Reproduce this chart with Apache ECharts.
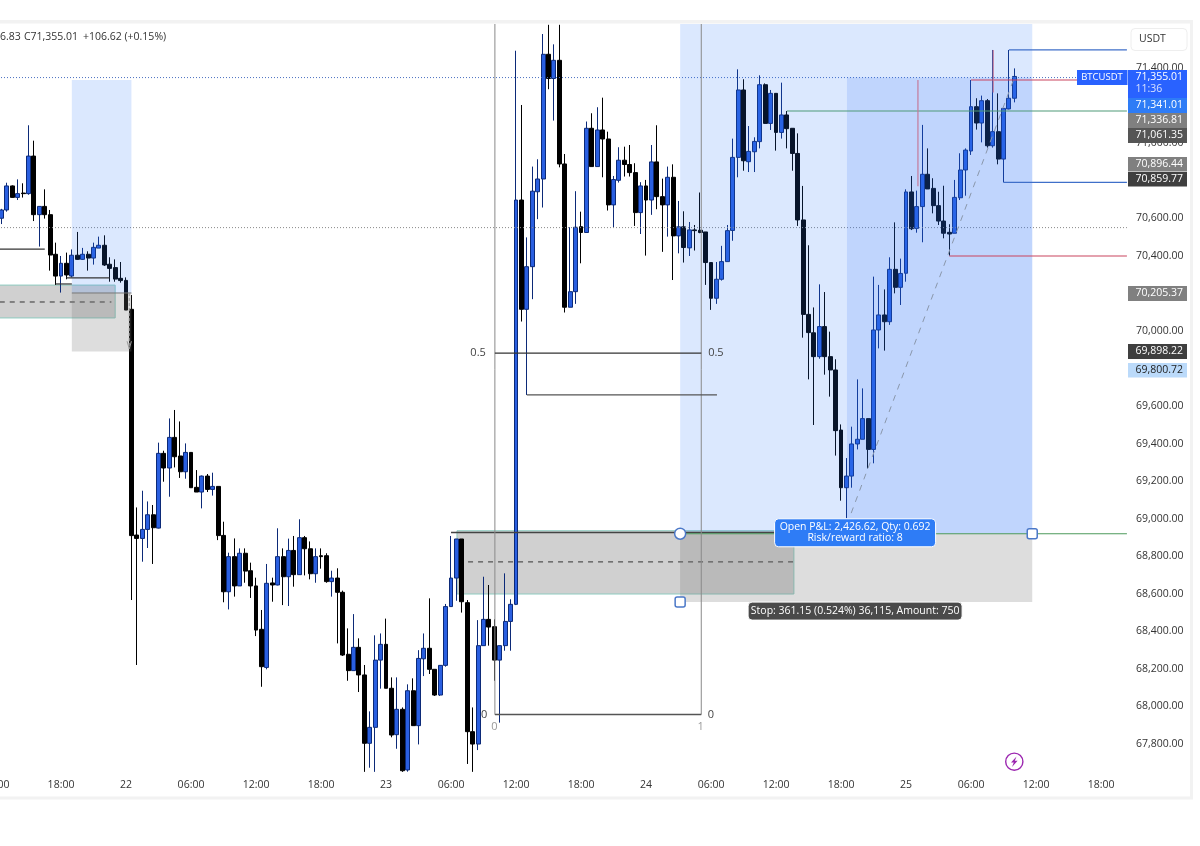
<!DOCTYPE html>
<html><head><meta charset="utf-8">
<style>html,body{margin:0;padding:0;background:#fff}#c{width:1200px;height:846px}</style>
<script src="https://cdn.jsdelivr.net/npm/echarts@6/dist/echarts.min.js"></script>
</head><body><div id="c"></div>
<script>
// x positions are half-hour steps counted from 22 00:00
const firstStep = -23;
const opens = [
70600,70644,70772,70711,70734,70731,70931,70619,70663,70619,
70408,70292,70360,70292,70403,70381,70408,70388,70441,70456,
70355,70337,70280,70269,70115,68913,68895,68943,69021,68950,
69348,69270,69433,69334,69250,69353,69167,69142,69227,69156,
69172,68911,68611,68798,68642,68816,68723,68642,68411,68208,
68658,68647,68798,68691,68831,68702,68899,68840,68707,68803,
68803,68665,68684,68608,68278,68191,68315,68168,67804,67889,
68247,68331,68097,67850,67985,67662,68084,67898,68254,68310,
68198,68061,68219,68532,68684,68892,68553,67866,67800,68324,
68464,68425,68247,68324,68453,68544,70697,70115,70342,70741,
70809,71473,71344,71441,70889,70126,70209,70555,70524,71079,
70875,71070,71022,70671,70802,70909,70886,70843,70630,70772,
70697,70900,70715,70671,70818,70506,70554,70442,70538,70536,
70527,70364,70174,70275,70369,70535,70924,71283,70901,70954,
71008,71311,71105,71265,71057,71150,71079,70945,70591,70088,
69990,69863,70023,69863,69792,69472,69165,69227,69398,69423,
69533,69369,70005,70085,70049,70328,70232,70307,70740,70546,
70662,70834,70759,70667,70585,70525,70520,70709,70857,70958,
71194,71107,71226,70986,71061,70915,71182,71239];
const closes = [
70644,70772,70711,70731,70731,70931,70619,70663,70619,70404,
70292,70360,70298,70403,70381,70408,70388,70445,70456,70351,
70333,70276,70268,70111,68910,68895,68943,69021,68952,69348,
69270,69433,69330,69250,69353,69165,69142,69227,69156,69172,
68910,68611,68798,68642,68816,68721,68642,68407,68212,68656,
68647,68798,68691,68831,68702,68899,68840,68707,68798,68798,
68665,68684,68608,68274,68191,68315,68168,67804,67889,68247,
68331,68097,67848,67985,67658,68084,67898,68256,68310,68198,
68061,68219,68532,68684,68892,68558,67866,67800,68324,68464,
68423,68247,68324,68453,68544,70697,70115,70342,70744,70809,
71473,71344,71441,70889,70126,70209,70552,70524,71079,70875,
71070,71022,70671,70806,70909,70886,70843,70630,70772,70697,
70900,70715,70671,70818,70506,70554,70444,70538,70534,70524,
70364,70174,70275,70369,70534,70924,71283,70906,70956,71009,
71311,71105,71265,71057,71150,71077,70945,70591,70088,69991,
69863,70023,69863,69792,69469,69165,69227,69398,69423,69533,
69369,70005,70085,70049,70328,70232,70306,70740,70544,70662,
70834,70756,70667,70585,70520,70516,70711,70857,70963,71194,
71107,71226,70986,71061,70915,71185,71239,71355];
const lows = [
70569,70635,70709,70697,70710,70725,70585,70449,70598,70321,
70245,70204,70275,70285,70378,70378,70321,70353,70441,70346,
70262,70262,70257,70111,68567,68221,68771,68844,68759,68948,
69197,69117,69273,69217,69213,69165,69142,69055,69142,69123,
68886,68555,68517,68585,68642,68659,68578,68375,68105,68198,
68558,68645,68540,68535,68638,68702,68698,68677,68659,68734,
68659,68585,68336,68269,68137,68191,68077,67652,67674,67652,
68095,68097,67836,67775,67652,67653,67898,67798,68162,68173,
68056,68056,68212,68532,68563,68500,67694,67652,67768,68324,
68324,68137,67914,68297,68297,68540,70050,69659,70169,70595,
70657,71287,71120,70871,70098,70126,70144,70360,70524,70875,
70875,70818,70641,70552,70790,70822,70822,70559,70516,70401,
70618,70648,70421,70502,70271,70413,70364,70399,70428,70520,
70245,70112,70144,70268,70369,70480,70818,70853,70846,70846,
70972,71105,71070,70960,71024,70972,70853,70559,69964,69742,
69499,69852,69767,69650,69336,69096,69002,69165,69369,69423,
69268,69295,69907,69895,70032,70200,70138,70262,70537,70523,
70472,70756,70626,70564,70493,70401,70520,70697,70720,70937,
71072,71004,70976,70976,70887,70791,71180,71217];
const highs = [
70650,70789,70775,70807,70786,71095,71013,70663,70754,70644,
70470,70399,70417,70434,70527,70442,70424,70470,70502,70509,
70392,70381,70367,70285,70191,69060,69149,69092,69073,69405,
69362,69534,69579,69518,69401,69353,69259,69230,69238,69245,
69172,68984,68819,68895,68842,68842,68766,68686,68514,68759,
68686,68949,68842,68894,68908,68997,68908,68879,68842,68842,
68816,68723,68736,68617,68416,68492,68363,68221,67974,68379,
68389,68468,68155,68155,67995,68118,68150,68300,68389,68576,
68198,68219,68546,68908,68892,68892,68567,67995,68460,68691,
68647,68464,68324,68709,68571,71492,71203,70498,70875,70914,
71581,71630,71526,71630,70942,70552,70744,70635,71115,71159,
71191,71242,71061,70825,70978,70981,70990,70893,70792,70804,
70990,71095,70811,70875,70887,70692,70637,70580,70564,70737,
70527,70364,70367,70453,70564,71024,71393,71340,71091,71031,
71361,71318,71283,71265,71322,71171,71079,71052,70772,70456,
70125,70248,70207,69996,69849,69502,69323,69490,69742,69694,
69533,70289,70245,70221,70392,70578,70385,70754,70825,70747,
71097,70972,70813,70741,70773,70568,70804,70946,70972,71336,
71239,71253,71235,71496,71265,71185,71496,71398];

const xTickSteps  = [-24,-12,0,12,24,36,48,60,72,84,96,108,120,132,144,156,168,180];
const xTickLabels = ['12:00','18:00','22','06:00','12:00','18:00','23','06:00','12:00','18:00','24','06:00','12:00','18:00','25','06:00','12:00','18:00'];
const priceTicks = [67800,68000,68200,68400,68600,68800,69000,69200,69400,69600,69800,70000,70200,70400,70600,70800,71000,71200,71400];

const yTop = 71634.3, yBottom = 67651.2, xLeft = -24.74, xRight = 184.98;
const lastPriceLevel = 71349, midDotted = 70550;
const entry = 68920, stopLevel = 68557, posLeft = 102.3, posRight = 167.3, posMid = 133.1;
const oldBoxTop = 70244, oldBoxBottom = 70069, oldBoxMid = 70154;
const oldPosTop = 71336, oldPosEntry = 70202, oldPosStop = 69890;
const newBoxTop = 68936, newBoxBottom = 68599, newBoxMid = 68770, newBoxLine = 68926;
const fibLeft = 68.1, fibRight = 106.2, fibHalf = 69882, fibZero = 67957;

const UIFONT = '"Open Sans","Noto Sans",sans-serif';
const fz = (s,w) => (w?w+' ':'')+s+'px '+UIFONT;
const dashGrey = [5,5];

function rect(x0,x1,p0,p1,style){return {k:'rect',x0,x1,p0,p1,style};}
function line(x0,p0,x1,p1,stroke,lineWidth,lineDash){return {k:'line',x0,x1,p0,p1,style:{stroke,lineWidth:lineWidth||1,lineDash:lineDash||null}};}
function text(x,p,str,fill,size){return {k:'text',x,p,str,fill,size};}

const BLUEFILL='rgba(40,120,250,0.17)', BLUEFILL2='rgba(40,110,250,0.15)', STOPFILL='rgba(120,120,120,0.25)', BOXFILL='rgba(100,100,100,0.3)', BOXEDGE='#8ecbc0';

const under = [
  rect(-27,-2,oldBoxTop,oldBoxBottom,{fill:BOXFILL,stroke:BOXEDGE,lineWidth:1}),
  line(-27,oldBoxMid,-2.7,oldBoxMid,'#333',1,dashGrey),
  rect(61.1,123.3,newBoxTop,newBoxBottom,{fill:BOXFILL,stroke:BOXEDGE,lineWidth:1}),
  line(61.3,newBoxMid,123.2,newBoxMid,'#333',1,dashGrey)
];
const over = [
  line(xLeft,lastPriceLevel,xRight-0.2,lastPriceLevel,'#4a6fc0',1,[1,2]),
  line(xLeft,midDotted,xRight-0.2,midDotted,'#888',1,[1,2]),
  rect(-10,1,oldPosTop,oldPosEntry,{fill:BLUEFILL}),
  rect(-10,1,oldPosEntry,oldPosStop,{fill:STOPFILL}),
  line(-10,oldPosEntry,1,oldPosEntry,'#777',1),
  line(0.6,oldPosEntry,0.6,69905,'#999',1,[3,2]),
  line(0.2,69945,0.6,69905,'#999',1),
  line(1.0,69945,0.6,69905,'#999',1),
  line(-27,70436,-15,70436,'#333',1.2),
  line(-13,70250,-10,70250,'#333',1.2),
  line(-11,70282,-3,70282,'#333',1.2),
  // long position
  rect(posLeft,posRight,yTop,entry,{fill:BLUEFILL}),
  rect(posMid,posRight,lastPriceLevel,entry,{fill:BLUEFILL2}),
  rect(posLeft,posRight,entry,stopLevel,{fill:STOPFILL}),
  line(60,newBoxLine,123.2,newBoxLine,'#444',1.5),
  line(posLeft,entry,xRight-0.2,entry,'#4c9a5b',1.2),
  line(posMid,68970,164,lastPriceLevel,'#8a97ab',1,[6,6]),
  // fibonacci
  line(fibLeft,yTop,fibLeft,fibZero,'#8a8a8a',1),
  line(fibRight,yTop,fibRight,fibZero,'#8a8a8a',1),
  line(fibLeft,fibHalf,fibRight,fibHalf,'#333',1.2),
  line(fibLeft,fibZero,fibRight,fibZero,'#555',1.5),
  line(74,69659,109.1,69659,'#555',1.2),
  text(65,fibHalf,'0.5','#444',11),text(108.9,fibHalf,'0.5','#444',11),
  text(66.1,fibZero,'0','#444',11),text(108.0,fibZero,'0','#444',11),
  text(68,67891,'0','#999',11),text(106.1,67891,'1','#999',11),
  // levels
  line(122,71171,xRight-0.2,71171,'#4e9a78',1.2),
  line(156,oldPosTop,175.6,oldPosTop,'#c9455f',1.2),
  line(152,70399,xRight-0.2,70399,'#c9455f',1.2),
  line(163,71496,xRight-0.2,71496,'#3f6fc9',1.2),
  line(162,70791,xRight-0.2,70791,'#3f6fc9',1.2),
  line(146.2,oldPosTop,146.2,70770,'#c47a9b',1.2),
  line(160.1,71496,160.1,71270,'#c47a9b',1.2),
  // handles and badges
  {k:'circle',x:posLeft,p:entry,r:5.5},
  {k:'square',x:posLeft,p:stopLevel,s:10},
  {k:'square',x:posRight,p:entry,s:10},
  {k:'badge',x:134.6,p:entry+5,w:161,h:28,fill:'#2e7cf6',stroke:'#fff',lines:['Open P&L: 2,426.62, Qty: 0.692','Risk/reward ratio: 8']},
  {k:'badge',x:134.6,p:68508,w:214,h:18,fill:'#4a4a4a',stroke:'#fff',lines:['Stop: 361.15 (0.524%) 36,115, Amount: 750']}
];

function renderer(shapes){
  return function(params,api){
    const s=shapes[params.dataIndex];
    if(s.k==='rect'){
      const a=api.coord([s.x0,s.p0]),b=api.coord([s.x1,s.p1]);
      return {type:'rect',shape:{x:a[0],y:a[1],width:b[0]-a[0],height:b[1]-a[1]},style:s.style};
    }
    if(s.k==='line'){
      const a=api.coord([s.x0,s.p0]),b=api.coord([s.x1,s.p1]);
      return {type:'line',shape:{x1:a[0],y1:a[1],x2:b[0],y2:b[1]},style:s.style};
    }
    const c=api.coord([s.x,s.p]);
    if(s.k==='text'){
      return {type:'text',x:c[0],y:c[1],style:{text:s.str,fill:s.fill,font:fz(s.size),align:'center',verticalAlign:'middle'}};
    }
    if(s.k==='circle'){
      return {type:'circle',shape:{cx:c[0],cy:c[1],r:s.r},style:{fill:'#fff',stroke:'#4b78c8',lineWidth:1.5}};
    }
    if(s.k==='square'){
      return {type:'rect',shape:{x:c[0]-s.s/2,y:c[1]-s.s/2,width:s.s,height:s.s,r:2},style:{fill:'#fff',stroke:'#4b78c8',lineWidth:1.5}};
    }
    if(s.k==='badge'){
      const kids=[{type:'rect',shape:{x:c[0]-s.w/2,y:c[1]-s.h/2,width:s.w,height:s.h,r:4},style:{fill:s.fill,stroke:s.stroke,lineWidth:1}}];
      const n=s.lines.length;
      s.lines.forEach((t,i)=>kids.push({type:'text',x:c[0],y:c[1]+(i-(n-1)/2)*11,style:{text:t,fill:'#fff',font:fz(10.5),align:'center',verticalAlign:'middle'}}));
      return {type:'group',children:kids};
    }
  };
}
function custom(shapes,z){
  return {type:'custom',z,silent:true,clip:false,animation:false,coordinateSystem:'cartesian2d',
    data:shapes.map((_,i)=>[i]),encode:{x:-1,y:-1},renderItem:renderer(shapes),tooltip:{show:false}};
}

const candles = opens.map((o,i)=>[firstStep+i,o,closes[i],lows[i],highs[i]]);

// price-scale tags
const tags = [
 ['71,355.01',70,28,'#2962ff','#fff','11:36'],
 ['71,341.01',98,15,'#2e7cf6','#fff'],
 ['71,336.81',113,15,'#808080','#fff'],
 ['71,061.35',128,15,'#555555','#fff'],
 ['70,896.44',157,14.5,'#808080','#fff'],
 ['70,859.77',172,14.5,'#3f3f3f','#fff'],
 ['70,205.37',286,15,'#808080','#fff'],
 ['69,898.22',344,15,'#3f3f3f','#fff'],
 ['69,800.72',363,14.5,'#bbdafa','#222']
];
const tagX=1128,tagW=59,txtX=1135.5;
const graphic=[
 {type:'rect',shape:{x:0,y:20,width:1193,height:3.5},style:{fill:'#f2f2f2'},z:0},
 {type:'rect',shape:{x:0,y:796.5,width:1193,height:3},style:{fill:'#f2f2f2'},z:0},
 {type:'rect',shape:{x:1190,y:20,width:3,height:779},style:{fill:'#f2f2f2'},z:0},
 {type:'text',x:0,y:37,style:{text:'6.83',fill:'#333',font:fz(10.5),verticalAlign:'middle'},z:50},
 {type:'text',x:24,y:37,style:{text:'C71,355.01',fill:'#333',font:fz(10.5),verticalAlign:'middle'},z:50},
 {type:'text',x:83,y:37,style:{text:'+106.62 (+0.15%)',fill:'#333',font:fz(10.5),verticalAlign:'middle'},z:50},
 {type:'rect',shape:{x:1131,y:28.5,width:56,height:22,r:4},style:{fill:'#fff',stroke:'#eeeeee',lineWidth:1},z:50},
 {type:'text',x:1139,y:39.5,style:{text:'USDT',fill:'#333',font:fz(10.5),verticalAlign:'middle'},z:51},
 {type:'rect',shape:{x:1077,y:70,width:50.5,height:15},style:{fill:'#2962ff'},z:50},
 {type:'text',x:1102,y:77.5,style:{text:'BTCUSDT',fill:'#fff',font:fz(9.5),align:'center',verticalAlign:'middle'},z:51},
 {type:'circle',shape:{cx:1014.3,cy:761.7,r:8.6},style:{fill:'#fff',stroke:'#9c27b0',lineWidth:1.4},z:50},
 {type:'polygon',shape:{points:[[1016.5,756.5],[1011,762.6],[1013.8,762.6],[1012,767],[1017.6,760.8],[1014.8,760.8]]},style:{fill:'#9c27b0'},z:51}
];
tags.forEach(t=>{
  graphic.push({type:'rect',shape:{x:tagX,y:t[1],width:tagW,height:t[2]},style:{fill:t[3]},z:60});
  graphic.push({type:'text',x:txtX,y:t[1]+(t[5]?7.5:t[2]/2),style:{text:t[0],fill:t[4],font:fz(10.5),verticalAlign:'middle'},z:61});
  if(t[5]) graphic.push({type:'text',x:txtX,y:t[1]+19.5,style:{text:t[5],fill:'#d5e0ff',font:fz(10.5),verticalAlign:'middle'},z:61});
});

const chart=echarts.init(document.getElementById('c'),null,{renderer:'canvas'});
chart.setOption({
  animation:false,
  backgroundColor:'#ffffff',
  graphic,
  grid:{left:-8,top:24,right:72,bottom:74,containLabel:false,outerBoundsMode:'none'},
  xAxis:{type:'value',min:xLeft,max:xRight,
    axisLine:{show:false},axisTick:{show:false},splitLine:{show:false},
    axisLabel:{customValues:xTickSteps,margin:8,color:'#333',fontFamily:'"Open Sans","Noto Sans",sans-serif',fontSize:10.5,
      formatter:v=>{const i=xTickSteps.indexOf(v);return i>=0?xTickLabels[i]:'';}}},
  yAxis:{type:'value',position:'right',min:yBottom,max:yTop,scale:true,
    axisLine:{show:false},axisTick:{show:false},splitLine:{show:false},
    axisLabel:{customValues:priceTicks,margin:8,color:'#333',fontFamily:'"Open Sans","Noto Sans",sans-serif',fontSize:10.5,
      formatter:v=>v.toLocaleString('en-US',{minimumFractionDigits:2,maximumFractionDigits:2})}},
  series:[
    custom(under,1),
    {type:'candlestick',z:2,data:candles,barWidth:4.4,clip:true,silent:true,
      itemStyle:{color:'#2a5fe0',color0:'#000000',borderColor:'#0c2a78',borderColor0:'#000000',borderWidth:1}},
    custom(over,3)
  ]
});
</script></body></html>
